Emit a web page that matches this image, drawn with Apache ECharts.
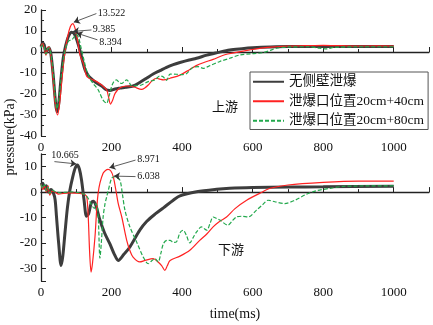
<!DOCTYPE html>
<html>
<head>
<meta charset="utf-8">
<script src="https://cdn.jsdelivr.net/npm/echarts@6/dist/echarts.min.js"></script>
<style>
  html, body { margin: 0; padding: 0; background: #fff; }
  #chart { width: 433px; height: 325px; }
</style>
</head>
<body>
<div id="chart"></div>
<script>
// series names
const names = ['无侧壁泄爆', '泄爆口位置20cm+40cm', '泄爆口位置20cm+80cm']

// upstream (top panel), [time ms, pressure kPa]
const upNoVent = [[0,2.5],[5,4.2],[9,3.5],[14,-0.5],[19,1.5],[23,2],[28,-1],[34,-10],[40,-22],[45,-28.5],[50,-25],[56,-14],[63,-3],[70,3],[78,7.5],[87,9.4],[95,8.5],[103,5],[110,1],[118,-4.5],[125,-8.5],[135,-11.5],[148,-13.5],[160,-15],[172,-16.2],[185,-18],[195,-18.3],[210,-17.6],[224,-17.2],[240,-16.8],[261,-16.2],[280,-14.5],[299,-12.5],[318,-10.5],[337,-8.9],[356,-7.3],[375,-6],[394,-5],[420,-3.8],[441,-3],[470,-1.5],[500,-0.3],[535,1],[570,1.6],[600,2],[650,2.4],[700,2.6],[800,2.6],[900,2.6],[1000,2.6]]
const upVent40 = [[0,3],[5,4],[9,2],[14,-1.5],[19,2],[23,2.5],[28,-2],[34,-12],[40,-24],[47,-30],[53,-24],[60,-12],[67,-1],[75,7],[83,12],[90,13.5],[97,11],[104,5],[110,-1],[115,-3.5],[120,-5.4],[129,-11.4],[137,-12.5],[144,-13],[158,-14.1],[172,-15.7],[186,-18],[191,-21],[197,-24.8],[203,-23],[210,-19.7],[224,-17],[243,-16.2],[255,-16.3],[266,-16.8],[285,-17.8],[295,-17],[304,-15.7],[316,-13.5],[328,-12.5],[338,-13],[347,-13.3],[366,-12.5],[394,-11],[422,-8.3],[440,-6.5],[460,-5.1],[488,-3.5],[521,-1.3],[550,-0.3],[592,1],[630,2],[668,2.5],[700,2.8],[750,3],[800,3.2],[850,3],[900,2.8],[950,2.9],[1000,2.8]]
const upVent80 = [[0,2],[5,3.5],[9,2.5],[14,-1],[19,1.5],[23,2],[28,-1],[34,-9],[40,-21],[45,-27],[51,-22],[58,-11],[66,-1],[74,4],[80,5.5],[87,5.7],[93,7],[100,8.4],[106,7],[115,1],[122,-4],[129,-8.6],[138,-12.5],[148,-15],[162,-18],[176,-22.9],[186,-24.4],[193,-21],[200,-16.5],[207,-14],[214,-13.3],[222,-14.5],[229,-15],[236,-14],[243,-13.3],[250,-14.5],[257,-16.2],[270,-16],[285,-15.7],[304,-14.1],[323,-13.3],[337,-11.4],[346,-11.8],[356,-13.5],[366,-10.5],[384,-10.6],[400,-10.8],[413,-10.2],[432,-7.2],[446,-7],[460,-7.8],[479,-6.5],[507,-4.5],[535,-3],[564,-1.4],[600,-0.8],[630,-0.3],[650,0.8],[668,1.8],[700,2.4],[760,2.5],[790,1.8],[810,1.5],[830,2.2],[900,2.5],[1000,2.5]]

// downstream (bottom panel)
const downNoVent = [[0,2.8],[5,3.5],[10,1.5],[15,2.5],[21,0],[28,1],[35,-0.3],[40,-3],[44,-9.8],[50,-20],[57,-28.9],[62,-25],[68,-16],[75,-6],[82,0.8],[90,6],[97,9.5],[103,10.7],[109,9],[115,4.7],[122,-3],[129,-9.5],[135,-8.5],[142,-4.5],[148,-3.6],[155,-5],[167,-11],[180,-16],[195,-20.3],[208,-24.5],[219,-26.9],[235,-24.5],[252,-21.6],[280,-15],[300,-11.5],[325,-8.5],[347,-6.2],[375,-3.2],[394,-1.5],[441,0.1],[498,1.1],[535,1.5],[600,1.8],[700,2],[800,2.1],[1000,2.3]]
const downVent40 = [[0,3],[5,1],[10,2.5],[15,0],[20,2.5],[25,-1.2],[32,0.5],[40,0],[50,-0.8],[63,-0.5],[80,-0.3],[101,-0.4],[115,-0.6],[125,-1],[130,-2],[134,-10],[138,-24],[142,-31.5],[146,-28],[153,-17.7],[162,-0.4],[176,7.4],[190,8.97],[198,8.3],[205,6],[212,1],[219,-4.5],[229,-9.8],[243,-19],[252,-23],[261,-25.6],[280,-27.5],[295,-26.9],[318,-26.2],[332,-27.5],[342,-28.9],[351,-30.8],[358,-29],[366,-26.9],[394,-25.2],[422,-22.9],[450,-19],[470,-16.5],[488,-13.7],[507,-11.5],[526,-9.8],[550,-6.5],[583,-3.2],[620,-0.5],[650,1.5],[700,2.8],[800,3.8],[900,4.3],[1000,4.3]]
const downVent80 = [[0,3],[5,1.5],[10,3],[15,0.5],[20,2],[25,-0.5],[32,0.8],[40,0.2],[54,-0.3],[82,0.1],[110,-0.3],[125,-1],[134,-2.5],[143,-5],[151,-6.4],[156,-4.5],[160,-6],[163,-12],[167,-26],[171,-20],[176,-10],[181,-5],[186,-2],[191,0.8],[200,5.4],[207,6.04],[215,5.7],[224,4.7],[231,-1],[238,-7.1],[252,-13.7],[271,-19.6],[290,-25.6],[304,-28.2],[314,-27],[323,-26.2],[332,-27.5],[340,-24],[347,-20.3],[357,-19],[366,-19],[375,-19.8],[384,-19.6],[394,-16],[403,-15],[412,-17],[422,-20],[431,-18],[441,-15.7],[455,-13.7],[470,-15],[479,-12.4],[488,-9.8],[498,-10.4],[507,-11],[530,-13],[541,-11.5],[554,-9.8],[570,-9.5],[587,-9.8],[611,-7.1],[628,-5],[644,-3.2],[663,-3.8],[691,-4.5],[720,-3.2],[750,-1],[780,0.5],[820,1.5],[860,2.3],[900,2.4],[1000,2.5]]

// peak notes: text, where the text sits, where the arrow starts and where it points
const upNoteText = ['13.522', '9.385', '8.394']
const upNoteAt = [[158,18.3],[144,11],[162,4.6]]
const upNoteFrom = [[157,18.3],[143,10.5],[160,5.8]]
const upNoteTo = [[93,14.2],[91,9.8],[101,9]]
const downNoteText = ['10.665', '8.971', '6.038']
const downNoteAt = [[26,14.3],[270,13],[270,6.2]]
const downNoteFrom = [[38,12],[268,12.6],[268,6.1]]
const downNoteTo = [[100,11.1],[194,9.6],[207,6.3]]

const serif = "'Liberation Serif', 'Noto Sans CJK SC', serif"
const colors = ['#3d3d3d', '#ff2222', '#22a84c']

const myChart = echarts.init(document.getElementById('chart'), null, {renderer: 'canvas'})

function xAxisOf (gridIndex, withName) {
    return {
        type: 'value', gridIndex: gridIndex, min: 0, max: 1100, interval: 200,
        name: withName ? 'time(ms)' : '', nameLocation: 'middle', nameGap: 26,
        nameTextStyle: {fontFamily: serif, fontSize: 14, color: '#111'},
        axisLine: {lineStyle: {color: '#222', width: 1.3}},
        axisTick: {inside: true, length: 5, lineStyle: {color: '#222'}},
        minorTick: {show: true, splitNumber: 2, length: 3, lineStyle: {color: '#222'}},
        axisLabel: {fontFamily: serif, fontSize: 13, color: '#111', margin: 5, showMaxLabel: false,
            formatter: v => String(v)},
        splitLine: {show: false}
    }
}

function yAxisOf (gridIndex, min, max) {
    return {
        type: 'value', gridIndex: gridIndex, min: min, max: max, splitNumber: 5,
        axisLine: {show: true, lineStyle: {color: '#222', width: 1.3}},
        axisTick: {inside: true, length: 5, lineStyle: {color: '#222'}},
        minorTick: {show: true, splitNumber: 2, length: 3, lineStyle: {color: '#222'}},
        axisLabel: {fontFamily: serif, fontSize: 13, color: '#111', margin: 4,
            showMinLabel: gridIndex === 0, showMaxLabel: gridIndex === 0},
        splitLine: {show: false}
    }
}

function notes (texts, at, from, to) {
    return {
        markLine: {
            silent: true, symbol: ['none', 'arrow'], symbolSize: 6,
            lineStyle: {color: '#333', width: 0.8, type: 'solid'},
            label: {show: false},
            data: from.map((f, i) => [{coord: f}, {coord: to[i]}])
        },
        markPoint: {
            silent: true, symbol: 'circle', symbolSize: 0,
            label: {show: true, position: 'right', distance: 1, fontFamily: serif, fontSize: 10, color: '#111',
                formatter: p => p.name},
            data: at.map((a, i) => ({name: texts[i], coord: a}))
        }
    }
}

function lineSeries (idx, data, axisIndex, extra) {
    const s = {
        name: names[idx], type: 'line', data: data, xAxisIndex: axisIndex, yAxisIndex: axisIndex,
        showSymbol: false, symbol: 'none', smooth: 0.3,
        lineStyle: {color: colors[idx], width: idx === 0 ? 3 : 1.2, type: idx === 2 ? [4, 2] : 'solid'},
        itemStyle: {color: colors[idx]}
    }
    return Object.assign(s, extra || {})
}

myChart.setOption({
    animation: false,
    backgroundColor: '#fff',
    grid: [
        {left: 41, top: 10, width: 388, height: 126},
        {left: 41, top: 154, width: 388, height: 127}
    ],
    xAxis: [xAxisOf(0, false), xAxisOf(1, true)],
    yAxis: [yAxisOf(0, -40, 20), yAxisOf(1, -35, 15)],
    legend: {
        left: 250, top: 72, orient: 'vertical',
        data: names,
        itemWidth: 31, itemHeight: 13, itemGap: 6,
        padding: [3, 4, 2, 2],
        borderColor: '#555', borderWidth: 1, borderRadius: 0,
        itemStyle: {opacity: 0},
        textStyle: {fontFamily: serif, fontSize: 13.5, color: '#111'}
    },
    graphic: [
        {type: 'text', x: 10, y: 137, rotation: Math.PI / 2,
            style: {text: 'pressure(kPa)', font: "14px 'Liberation Serif'", fill: '#111', align: 'center', verticalAlign: 'middle'}},
        {type: 'text', x: 225, y: 106,
            style: {text: '上游', font: "13px 'Noto Sans CJK SC'", fill: '#111', align: 'center', verticalAlign: 'middle'}},
        {type: 'text', x: 231, y: 249,
            style: {text: '下游', font: "13px 'Noto Sans CJK SC'", fill: '#111', align: 'center', verticalAlign: 'middle'}}
    ],
    series: [
        lineSeries(0, upNoVent, 0),
        lineSeries(1, upVent40, 0, notes(upNoteText, upNoteAt, upNoteFrom, upNoteTo)),
        lineSeries(2, upVent80, 0),
        lineSeries(0, downNoVent, 1),
        lineSeries(1, downVent40, 1, notes(downNoteText, downNoteAt, downNoteFrom, downNoteTo)),
        lineSeries(2, downVent80, 1)
    ]
})
</script>
</body>
</html>
